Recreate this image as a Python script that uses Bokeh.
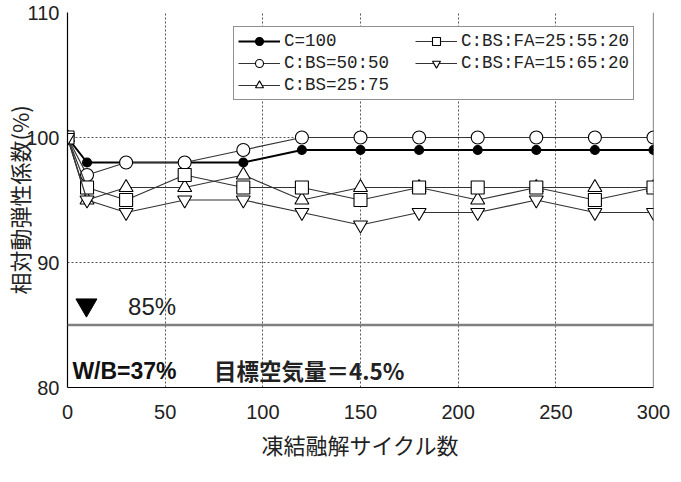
from bokeh.plotting import figure
from bokeh.models import Legend, LegendItem, Span, Label, Range1d, FixedTicker
from bokeh.embed import file_html
from bokeh.resources import INLINE

cycles = [0, 10, 30, 60, 90, 120, 150, 180, 210, 240, 270, 300]
c100 = [100, 98, 98, 98, 98, 99, 99, 99, 99, 99, 99, 99]
cbs_50_50 = [100, 97, 98, 98, 99, 100, 100, 100, 100, 100, 100, 100]
cbs_25_75 = [100, 95, 96, 96, 97, 95, 96, 96, 95, 96, 96, 96]
cbsfa_25_55_20 = [100, 96, 95, 97, 96, 96, 95, 96, 96, 96, 95, 96]
cbsfa_15_65_20 = [100, 95, 94, 95, 95, 94, 93, 94, 94, 95, 94, 94]

series_names = ["C=100", "C:BS=50:50", "C:BS=25:75", "C:BS:FA=25:55:20", "C:BS:FA=15:65:20"]
x_ticks = [0, 50, 100, 150, 200, 250, 300]
y_ticks = [80, 90, 100, 110]
limit_value = 85
limit_label = "85%"
note_wb = "W/B=37%"
note_air = "目標空気量＝4.5%"
x_title = "凍結融解サイクル数"
y_title = "相対動弾性係数(%)"

p = figure(width=681, height=482, output_backend="svg", toolbar_location=None,
           x_range=Range1d(0, 300), y_range=Range1d(80, 110),
           min_border_left=67, min_border_right=28, min_border_top=12, min_border_bottom=95)
p.outline_line_color = None
p.background_fill_color = "white"

for ax in (p.xaxis[0], p.yaxis[0]):
    ax.axis_line_color = "black"
    ax.axis_line_width = 1.2
    ax.major_tick_line_color = None
    ax.minor_tick_line_color = None
    ax.major_tick_out = 0
    ax.major_tick_in = 0
    ax.minor_tick_out = 0
    ax.minor_tick_in = 0
    ax.major_label_text_font = "Liberation Sans"
    ax.major_label_text_font_size = "20px"
    ax.major_label_text_color = "#222222"
    ax.axis_label_text_font = "Noto Sans CJK JP"
    ax.axis_label_text_font_size = "22px"
    ax.axis_label_text_font_style = "normal"
    ax.axis_label_text_color = "#222222"
p.xaxis.ticker = FixedTicker(ticks=x_ticks)
p.yaxis.ticker = FixedTicker(ticks=y_ticks)
p.xaxis.major_label_standoff = 17
p.yaxis.major_label_standoff = 8
p.xaxis.axis_label = x_title
p.xaxis.axis_label_standoff = 6
p.yaxis.axis_label = y_title
p.yaxis.axis_label_standoff = -12

for g in (p.xgrid[0], p.ygrid[0]):
    g.grid_line_color = "#555555"
    g.grid_line_dash = "2 2"
    g.grid_line_width = 1

p.add_layout(Span(location=300, dimension="height", line_color="#333333", line_width=1.2))
p.add_layout(Span(location=limit_value, dimension="width", line_color="#808080", line_width=2.5))

items = []
specs = [
    (c100, "circle", "black", 9, 2.0),
    (cbs_50_50, "circle", "white", 13, 1.2),
    (cbs_25_75, "triangle", "white", 14, 1.2),
    (cbsfa_25_55_20, "square", "white", 13, 1.2),
    (cbsfa_15_65_20, "inverted_triangle", "white", 14, 1.2),
]
for name, (vals, marker, fill, size, lw) in zip(series_names, specs):
    lr = p.line(cycles, vals, line_color="black" if lw > 1.5 else "#333333", line_width=lw)
    sr = p.scatter(cycles, vals, marker=marker, size=size, fill_color=fill,
                   line_color="black", line_width=1.1)
    items.append(LegendItem(label=name, renderers=[lr, sr]))

legend = Legend(items=items, location=(166, 287), orientation="vertical", nrows=3,
                label_text_font="Liberation Mono", label_text_font_size="17.5px",
                label_text_color="#222222", glyph_width=42, glyph_height=20,
                label_height=20, label_width=129, label_standoff=4, spacing=2, padding=4, margin=0,
                border_line_color="#222222", border_line_width=1,
                background_fill_color="white", background_fill_alpha=1)
p.add_layout(legend)

marker_x = [9.7]
marker_y = [86.6]
p.scatter(marker_x, marker_y, marker="inverted_triangle", size=21, fill_color="black", line_color="black")
p.add_layout(Label(x=31, y=86.5, text=limit_label, text_font="Liberation Sans",
                   text_font_size="24px", text_baseline="middle", text_color="#222222"))
p.add_layout(Label(x=2.5, y=81.3, text=note_wb, text_font="Liberation Sans",
                   text_font_style="bold", text_font_size="23px", text_baseline="middle",
                   text_color="#111111"))
p.add_layout(Label(x=75, y=81.4, text=note_air, text_font="Noto Sans CJK JP",
                   text_font_style="bold", text_font_size="22.5px", text_baseline="middle",
                   text_color="#222222"))

open("out.html", "w").write(file_html(p, INLINE))
